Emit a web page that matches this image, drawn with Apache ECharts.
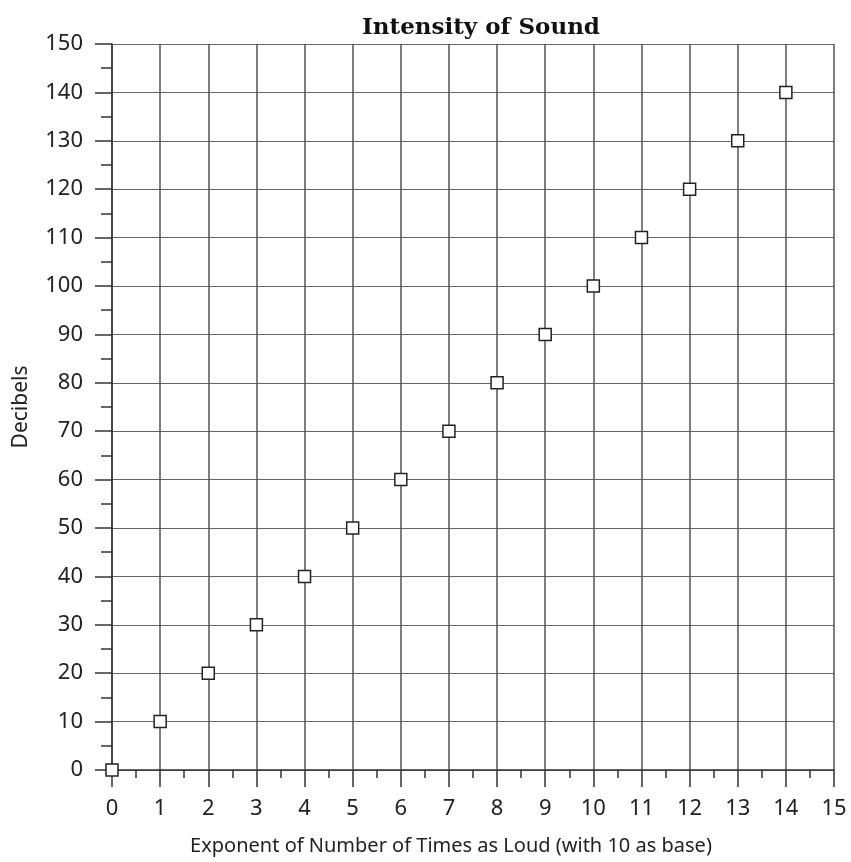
<!DOCTYPE html>
<html>
<head>
<meta charset="utf-8">
<script src="https://cdn.jsdelivr.net/npm/echarts@6/dist/echarts.min.js"></script>
<style>html,body{margin:0;padding:0;background:#fff;}#c{width:851px;height:862px;}</style>
</head>
<body>
<div id="c"></div>
<script>
const exponents = [0, 1, 2, 3, 4, 5, 6, 7, 8, 9, 10, 11, 12, 13, 14];
const decibels = [0, 10, 20, 30, 40, 50, 60, 70, 80, 90, 100, 110, 120, 130, 140];
const titleText = 'Intensity of Sound';
const xName = 'Exponent of Number of Times as Loud (with 10 as base)';
const yName = 'Decibels';

const chart = echarts.init(document.getElementById('c'));
const points = exponents.map((x, i) => [x, decibels[i]]);
chart.setOption({
  backgroundColor: '#fff',
  animation: false,
  title: {
    text: titleText,
    left: 476, top: 12, textAlign: 'center',
    textStyle: { fontFamily: 'DejaVu Serif', fontWeight: 'bold', fontSize: 23, color: '#111' }
  },
  grid: { left: 112, right: 17, top: 44, bottom: 92 },
  xAxis: {
    type: 'value', min: 0, max: 15, interval: 1,
    name: xName, nameLocation: 'middle', nameGap: 66,
    nameTextStyle: { fontFamily: 'Noto Sans', fontSize: 20, color: '#222', padding: [0, 44, 0, 0] },
    axisLine: { onZero: false, lineStyle: { color: '#333', width: 1.5 } },
    axisTick: { show: true, length: 17, lineStyle: { color: '#333', width: 1.5 } },
    minorTick: { show: true, splitNumber: 2, length: 8, lineStyle: { color: '#333', width: 1.5 } },
    axisLabel: { margin: 28, fontFamily: 'Noto Sans', fontSize: 22, color: '#222' },
    splitLine: { show: true, lineStyle: { color: '#555', width: 1.5 } }
  },
  yAxis: {
    type: 'value', min: 0, max: 150, interval: 10,
    name: yName, nameLocation: 'middle', nameGap: 80,
    nameTextStyle: { fontFamily: 'Noto Sans', fontSize: 21, color: '#222' },
    axisLine: { show: true, onZero: false, lineStyle: { color: '#333', width: 1.5 } },
    axisTick: { show: true, length: 17, lineStyle: { color: '#333', width: 1.5 } },
    minorTick: { show: true, splitNumber: 2, length: 11, lineStyle: { color: '#333', width: 1.5 } },
    axisLabel: { margin: 29, fontFamily: 'Noto Sans', fontSize: 22, color: '#222' },
    splitLine: { show: true, lineStyle: { color: '#666', width: 1.2 } }
  },
  series: [{
    type: 'scatter',
    data: points,
    symbol: 'rect',
    symbolSize: 12,
    itemStyle: { color: '#fff', borderColor: '#222', borderWidth: 1.5, opacity: 1 },
    z: 5
  }]
});
</script>
</body>
</html>
